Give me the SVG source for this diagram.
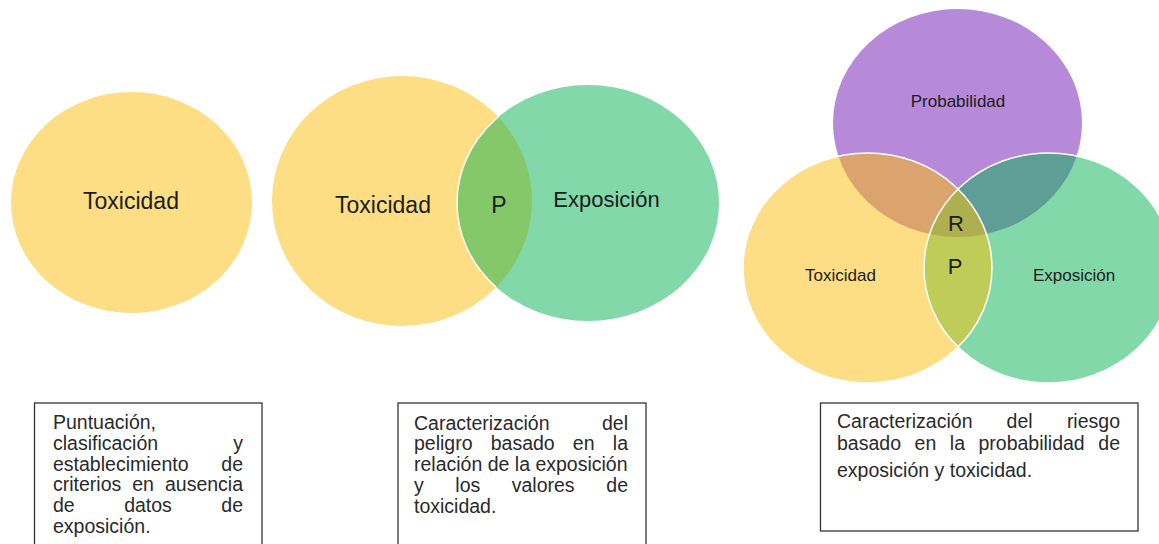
<svg xmlns="http://www.w3.org/2000/svg" width="1159" height="544" viewBox="0 0 1159 544">
<style>
.lbl{font-family:"Liberation Sans",Arial,sans-serif;fill:#1c1c1c;text-anchor:middle}
.box{fill:#fff;stroke:#333;stroke-width:1.3}
.bt{font-family:"Liberation Sans",Arial,sans-serif;font-size:19.5px;fill:#2a2a2a}
.e{text-anchor:end}
.m{text-anchor:middle}
.wline{fill:none;stroke:#fff;stroke-width:1.5}
</style>
<defs>
<clipPath id="c2y"><ellipse cx="402" cy="201" rx="130" ry="125"/></clipPath>
<clipPath id="c3p"><ellipse cx="957.5" cy="123" rx="124.5" ry="114"/></clipPath>
<clipPath id="c3y"><ellipse cx="867.5" cy="268" rx="124.5" ry="115"/></clipPath>
</defs>
<rect width="1159" height="544" fill="#fff"/>

<g id="venn1">
<ellipse cx="131.5" cy="202.5" rx="120.5" ry="110.5" fill="#FDDE84"/>
<text class="lbl" x="131" y="209" font-size="23">Toxicidad</text>
</g>

<g id="venn2">
<ellipse cx="402" cy="201" rx="130" ry="125" fill="#FDDE84"/>
<ellipse cx="588" cy="203" rx="131" ry="118" fill="#82D8A8"/>
<ellipse cx="588" cy="203" rx="131" ry="118" fill="#84C86A" clip-path="url(#c2y)"/>
<ellipse cx="588" cy="203" rx="131" ry="118" class="wline" clip-path="url(#c2y)"/>
<text class="lbl" x="383" y="213" font-size="23">Toxicidad</text>
<text class="lbl" x="499" y="213" font-size="23">P</text>
<text class="lbl" x="606.5" y="207" font-size="22">Exposición</text>
</g>

<g id="venn3">
<ellipse cx="957.5" cy="123" rx="124.5" ry="114" fill="#B689D9"/>
<ellipse cx="867.5" cy="268" rx="124.5" ry="115" fill="#FDDE84"/>
<ellipse cx="1048.5" cy="268" rx="124.5" ry="115" fill="#82D8A8"/>
<ellipse cx="867.5" cy="268" rx="124.5" ry="115" fill="#DBA46E" clip-path="url(#c3p)"/>
<ellipse cx="1048.5" cy="268" rx="124.5" ry="115" fill="#5E9E96" clip-path="url(#c3p)"/>
<ellipse cx="1048.5" cy="268" rx="124.5" ry="115" fill="#BFCC58" clip-path="url(#c3y)"/>
<g clip-path="url(#c3p)">
<ellipse cx="1048.5" cy="268" rx="124.5" ry="115" fill="#AEAF4E" clip-path="url(#c3y)"/>
</g>
<ellipse cx="867.5" cy="268" rx="124.5" ry="115" class="wline"/>
<ellipse cx="1048.5" cy="268" rx="124.5" ry="115" class="wline"/>
<text class="lbl" x="958" y="107" font-size="17">Probabilidad</text>
<text class="lbl" x="840.5" y="281" font-size="17">Toxicidad</text>
<text class="lbl" x="1074" y="281" font-size="17">Exposición</text>
<text class="lbl" x="956" y="231" font-size="22">R</text>
<text class="lbl" x="955" y="274" font-size="22">P</text>
</g>

<g id="box1">
<rect class="box" x="34.5" y="403" width="227.5" height="150"/>
<text class="bt" x="53" y="429">Puntuación,</text>
<text class="bt" x="53" y="450">clasificación</text>
<text class="bt e" x="243" y="450">y</text>
<text class="bt" x="53" y="471">establecimiento</text>
<text class="bt e" x="243" y="471">de</text>
<text class="bt" x="53" y="491">criterios</text>
<text class="bt m" x="143" y="491">en</text>
<text class="bt e" x="243" y="491">ausencia</text>
<text class="bt" x="53" y="512">de</text>
<text class="bt m" x="148" y="512">datos</text>
<text class="bt e" x="243" y="512">de</text>
<text class="bt" x="53" y="533">exposición.</text>
</g>

<g id="box2">
<rect class="box" x="398" y="403" width="248" height="150"/>
<text class="bt" x="414" y="430">Caracterización</text>
<text class="bt e" x="628" y="430">del</text>
<text class="bt" x="414" y="450">peligro</text>
<text class="bt m" x="522.7" y="450">basado</text>
<text class="bt m" x="583.7" y="450">en</text>
<text class="bt e" x="628" y="450">la</text>
<text class="bt" x="414" y="471">relación de la exposición</text>
<text class="bt" x="414" y="492">y</text>
<text class="bt m" x="467.8" y="492">los</text>
<text class="bt m" x="543.2" y="492">valores</text>
<text class="bt e" x="628" y="492">de</text>
<text class="bt" x="414" y="513">toxicidad.</text>
</g>

<g id="box3">
<rect class="box" x="820.5" y="403" width="317.5" height="128"/>
<text class="bt" x="837" y="428">Caracterización</text>
<text class="bt m" x="1019.6" y="428">del</text>
<text class="bt e" x="1120" y="428">riesgo</text>
<text class="bt" x="837" y="450">basado</text>
<text class="bt m" x="925.4" y="450">en</text>
<text class="bt m" x="957.4" y="450">la</text>
<text class="bt m" x="1031.6" y="450">probabilidad</text>
<text class="bt e" x="1120" y="450">de</text>
<text class="bt" x="837" y="477">exposición y toxicidad.</text>
</g>

<g id="connectors"></g>
</svg>
